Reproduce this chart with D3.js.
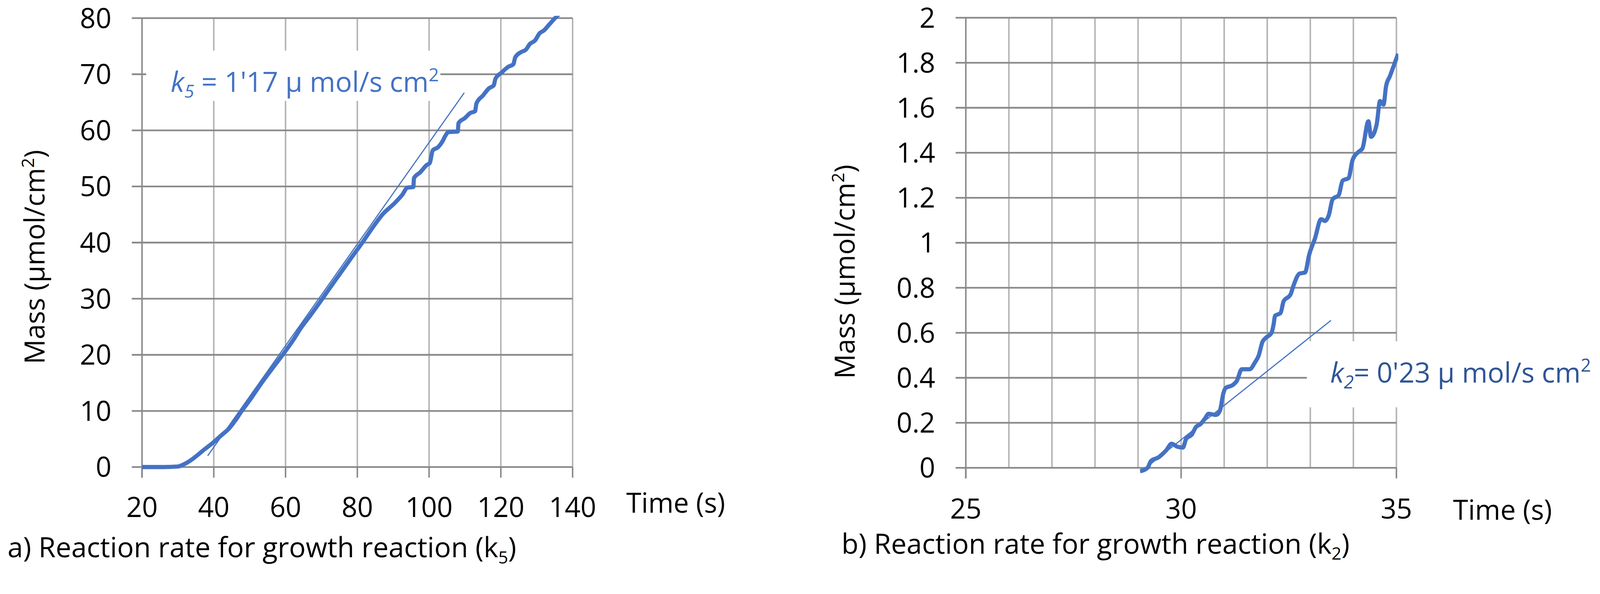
<!DOCTYPE html>
<html>
<head>
<meta charset="utf-8">
<script src="https://cdn.jsdelivr.net/npm/d3@7"></script>
<style>
  html, body { margin: 0; padding: 0; width: 100%; height: 100%; overflow: hidden; background: #fff; }
  #chart { width: 100%; height: 100%; }
  svg { display: block; }
  text { font-family: "Liberation Sans Narrow", "Open Sans", sans-serif; fill: #000; }
</style>
</head>
<body>
<div id="chart"></div>
<script>
// data
var leftTime = [20, 26, 30, 32, 34, 35.6, 37.5, 39.9, 42, 44.3, 46, 47.8, 50, 53, 56, 59.2, 62, 64.3, 67, 69.6, 72, 75, 78, 81.4, 84.4, 87, 90.5, 92.5, 94, 95.6, 95.8, 97.5, 99.3, 100.2, 101, 102.5, 103.7, 104.5, 105.4, 108, 108.2, 110, 111.5, 112.8, 113.2, 115, 116.7, 118, 118.5, 120.2, 122, 123.5, 124, 125.5, 127, 128.1, 129.5, 130.8, 132, 133.4, 135.1, 137];
var leftMass = [0, 0, 0.1, 0.6, 1.4, 2.2, 3.2, 4.4, 5.6, 6.9, 8.3, 10, 11.9, 14.7, 17.3, 20, 22.5, 24.8, 27.1, 29.4, 31.6, 34.3, 37, 40, 42.8, 45, 47.1, 48.5, 49.8, 49.9, 51.5, 52.5, 53.8, 54.2, 56.4, 57, 58, 59, 59.7, 59.8, 61.3, 62.2, 63.1, 63.4, 64.8, 66.2, 67.5, 68, 69.2, 70.3, 71.3, 71.8, 73, 73.9, 74.4, 75.4, 76, 77.3, 77.8, 78.8, 80, 81.2];
var leftTrend = [[38.3, 2.0], [109.8, 66.7]];

var rightTime = [29.05, 29.22, 29.3, 29.48, 29.56, 29.65, 29.78, 29.91, 30.04, 30.12, 30.25, 30.34, 30.46, 30.55, 30.64, 30.81, 30.9, 30.98, 31.03, 31.2, 31.29, 31.41, 31.59, 31.72, 31.8, 31.89, 31.97, 32.1, 32.15, 32.18, 32.31, 32.38, 32.54, 32.61, 32.75, 32.88, 32.97, 33.11, 33.25, 33.34, 33.43, 33.52, 33.66, 33.75, 33.89, 33.98, 34.12, 34.21, 34.35, 34.41, 34.54, 34.62, 34.7, 34.76, 34.85, 34.95, 35.04];
var rightMass = [-0.015, 0, 0.03, 0.047, 0.06, 0.077, 0.107, 0.094, 0.09, 0.13, 0.148, 0.18, 0.196, 0.218, 0.24, 0.235, 0.253, 0.33, 0.354, 0.368, 0.385, 0.438, 0.438, 0.47, 0.498, 0.56, 0.578, 0.6, 0.64, 0.675, 0.688, 0.74, 0.77, 0.81, 0.863, 0.868, 0.944, 1.02, 1.105, 1.097, 1.123, 1.194, 1.212, 1.276, 1.288, 1.367, 1.404, 1.419, 1.54, 1.471, 1.525, 1.63, 1.614, 1.696, 1.741, 1.793, 1.84];
var rightTrend = [[29.05, -0.02], [33.48, 0.655]];

var leftYTicks = [0, 10, 20, 30, 40, 50, 60, 70, 80];
var leftXTicks = [20, 40, 60, 80, 100, 120, 140];
var rightYTicks = [0, 0.2, 0.4, 0.6, 0.8, 1, 1.2, 1.4, 1.6, 1.8, 2];
var rightXGrid = [25, 26, 27, 28, 29, 30, 31, 32, 33, 34, 35];
var rightXTicks = [25, 30, 35];

var svgWidth = 4236, svgHeight = 1520;
var blue = "#4472C4", darkGrid = "#898989", lightGrid = "#B4B4B4";

// scale to whatever the viewport is, keeping the layout
var svg = d3.select("#chart").append("svg")
  .attr("width", "100%")
  .attr("height", "100%")
  .attr("viewBox", `0 0 ${svgWidth} ${svgHeight}`)
  .attr("preserveAspectRatio", "xMinYMin meet");

function drawPanel(p) {
  var x = d3.scaleLinear().domain(p.xDomain).range(p.xRange);
  var y = d3.scaleLinear().domain(p.yDomain).range(p.yRange);
  var g = svg.append("g");

  // vertical light gridlines
  g.selectAll(null).data(p.xGrid.slice(1)).enter().append("line")
    .attr("x1", d => x(d)).attr("x2", d => x(d))
    .attr("y1", p.yRange[1]).attr("y2", p.yRange[0])
    .attr("stroke", lightGrid).attr("stroke-width", 4);

  // horizontal gridlines, running a bit left of the axis
  g.selectAll(null).data(p.yTicks).enter().append("line")
    .attr("x1", p.xRange[0] - 27).attr("x2", p.xRange[1])
    .attr("y1", d => y(d)).attr("y2", d => y(d))
    .attr("stroke", darkGrid).attr("stroke-width", 4.5);

  // tick marks under the x axis
  g.selectAll(null).data(p.xTicks).enter().append("line")
    .attr("x1", d => x(d)).attr("x2", d => x(d))
    .attr("y1", p.yRange[0]).attr("y2", p.yRange[0] + 28)
    .attr("stroke", darkGrid).attr("stroke-width", 4);

  // y axis line
  g.append("line")
    .attr("x1", p.xRange[0]).attr("x2", p.xRange[0])
    .attr("y1", p.yRange[1]).attr("y2", p.yRange[0] + 28)
    .attr("stroke", darkGrid).attr("stroke-width", 4);

  // white box behind the rate label
  g.append("rect")
    .attr("x", p.box[0]).attr("y", p.box[1])
    .attr("width", p.box[2]).attr("height", p.box[3])
    .attr("fill", "#fff");

  // clip
  var clipId = "clip" + p.id;
  svg.append("clipPath").attr("id", clipId).append("rect")
    .attr("x", p.xRange[0]).attr("y", p.yRange[1] - 6)
    .attr("width", p.xRange[1] - p.xRange[0] + 5)
    .attr("height", p.yRange[0] - p.yRange[1] + 30);

  var pts = p.time.map((t, i) => [t, p.mass[i]]);
  var line = d3.line().x(d => x(d[0])).y(d => y(d[1])).curve(d3.curveMonotoneX);

  g.append("path").datum(pts)
    .attr("clip-path", "url(#" + clipId + ")")
    .attr("d", line)
    .attr("fill", "none").attr("stroke", blue)
    .attr("stroke-width", 11).attr("stroke-linejoin", "round");

  g.append("path").datum(p.trend)
    .attr("d", d3.line().x(d => x(d[0])).y(d => y(d[1])))
    .attr("fill", "none").attr("stroke", blue).attr("stroke-width", 3);

  // tick labels
  g.selectAll(null).data(p.yTicks).enter().append("text")
    .attr("x", p.yLabelX).attr("y", d => y(d) + 26)
    .attr("text-anchor", "end").attr("font-size", 73)
    .text(d => d);

  g.selectAll(null).data(p.xTicks).enter().append("text")
    .attr("x", d => x(d)).attr("y", p.xLabelY)
    .attr("text-anchor", "middle").attr("font-size", 73)
    .text(d => d);

  // axis titles
  g.append("text")
    .attr("x", p.timePos[0]).attr("y", p.timePos[1])
    .attr("font-size", 73)
    .attr("textLength", 262).attr("lengthAdjust", "spacingAndGlyphs")
    .text("Time (s)");

  var m = g.append("text")
    .attr("transform", `translate(${p.massPos[0]}, ${p.massPos[1]}) rotate(-90)`)
    .attr("text-anchor", "middle").attr("font-size", 73)
    .attr("textLength", 567).attr("lengthAdjust", "spacingAndGlyphs");
  m.append("tspan").text("Mass (µmol/cm");
  m.append("tspan").attr("font-size", 46).attr("dy", -28).text("2");
  m.append("tspan").attr("dy", 28).text(")");

  // caption
  var c = g.append("text")
    .attr("x", p.capPos[0]).attr("y", p.capPos[1])
    .attr("font-size", 74)
    .attr("textLength", p.capLen).attr("lengthAdjust", "spacingAndGlyphs");
  c.append("tspan").text(p.capLetter + ") Reaction rate for growth reaction (k");
  c.append("tspan").attr("font-size", 46).attr("dy", 16).text(p.sub);
  c.append("tspan").attr("dy", -16).text(")");

  // rate label
  var r = g.append("text")
    .attr("x", p.ratePos[0]).attr("y", p.ratePos[1])
    .attr("font-size", 74)
    .attr("textLength", p.rateLen).attr("lengthAdjust", "spacingAndGlyphs")
    .style("fill", p.rateColor);
  r.append("tspan").attr("font-style", "italic").text("k");
  r.append("tspan").attr("font-style", "italic").attr("font-size", 48).attr("dy", 16).text(p.sub);
  r.append("tspan").attr("dy", -16).text(p.rateText);
  r.append("tspan").attr("font-size", 48).attr("dy", -28).text("2");
}

drawPanel({
  id: "a",
  xDomain: [20, 140], xRange: [376, 1516],
  yDomain: [0, 80], yRange: [1236, 48],
  xGrid: leftXTicks, xTicks: leftXTicks, yTicks: leftYTicks,
  time: leftTime, mass: leftMass, trend: leftTrend,
  box: [387, 134, 779, 133],
  yLabelX: 295, xLabelY: 1368,
  timePos: [1658, 1357], massPos: [118, 680],
  capPos: [20, 1475], capLen: 1347, capLetter: "a", sub: "5",
  ratePos: [452, 243], rateLen: 710, rateColor: "#4472C4",
  rateText: " = 1'17 µ mol/s cm"
});

drawPanel({
  id: "b",
  xDomain: [25, 35], xRange: [2557, 3697],
  yDomain: [0, 2], yRange: [1238, 47],
  xGrid: rightXGrid, xTicks: rightXTicks, yTicks: rightYTicks,
  time: rightTime, mass: rightMass, trend: rightTrend,
  box: [3460, 903, 776, 175],
  yLabelX: 2476, xLabelY: 1372,
  timePos: [3847, 1375], massPos: [2263, 719],
  capPos: [2228, 1465], capLen: 1345, capLetter: "b", sub: "2",
  ratePos: [3522, 1012], rateLen: 690, rateColor: "#2F5597",
  rateText: "= 0'23 µ mol/s cm"
});
</script>
</body>
</html>
